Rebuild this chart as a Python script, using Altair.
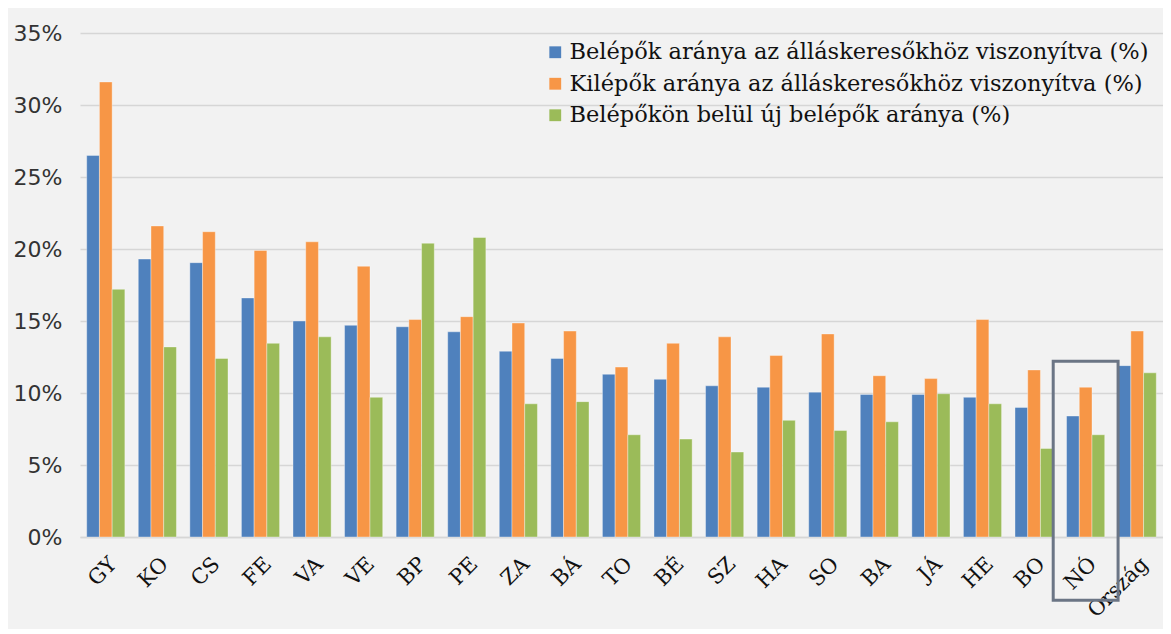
import altair as alt
import pandas as pd

categories = ["GY", "KO", "CS", "FE", "VA", "VE", "BP", "PE", "ZA", "BÁ", "TO",
              "BÉ", "SZ", "HA", "SO", "BA", "JÁ", "HE", "BO", "NÓ", "Ország"]
series_names = [
    "Belépők aránya az álláskeresőkhöz viszonyítva (%)",
    "Kilépők aránya az álláskeresőkhöz viszonyítva (%)",
    "Belépőkön belül új belépők aránya (%)",
]
belepok = [26.5, 19.3, 19.05, 16.6, 15.0, 14.7, 14.6, 14.25, 12.9, 12.4, 11.3,
           10.95, 10.5, 10.4, 10.06, 9.9, 9.9, 9.7, 9.0, 8.4, 11.9]
kilepok = [31.6, 21.6, 21.2, 19.9, 20.5, 18.8, 15.1, 15.3, 14.86, 14.3, 11.8,
           13.45, 13.9, 12.6, 14.1, 11.2, 11.0, 15.1, 11.6, 10.4, 14.3]
uj_belepok = [17.2, 13.2, 12.4, 13.45, 13.9, 9.7, 20.4, 20.8, 9.25, 9.4, 7.1,
              6.8, 5.9, 8.1, 7.4, 8.0, 9.95, 9.25, 6.15, 7.1, 11.4]
colors = ["#4f81bd", "#f79646", "#9bbb59"]
y_ticks = [0, 0.05, 0.10, 0.15, 0.20, 0.25, 0.30, 0.35]

# highlight box around NÓ (category and y-extent in data units)
highlight_cat = ["NÓ"]
highlight_top = [0.122]
highlight_bottom = [-0.044]

rows = []
for s, vals in zip(series_names, [belepok, kilepok, uj_belepok]):
    for c, v in zip(categories, vals):
        rows.append({"cat": c, "series": s, "value": v / 100.0})
df = pd.DataFrame(rows)

hl = pd.DataFrame({"cat": highlight_cat, "top": highlight_top, "bottom": highlight_bottom})

x_scale = alt.Scale(domain=categories, paddingInner=0.26, paddingOuter=0.13)
y_scale = alt.Scale(domain=[0, 0.35], nice=False)

bars = alt.Chart(df).mark_bar(stroke="#ffffff", strokeWidth=0.6, strokeOpacity=0.6).encode(
    x=alt.X("cat:N", scale=x_scale, sort=categories,
            axis=alt.Axis(title=None, labelAngle=-45, labelFont="DejaVu Serif",
                          labelFontSize=21, labelColor="#111111", labelPadding=16,
                          ticks=False, domain=True, domainColor="#d6d6d6",
                          domainWidth=1.5)),
    xOffset=alt.XOffset("series:N", sort=series_names,
                        scale=alt.Scale(domain=series_names, paddingInner=0, paddingOuter=0)),
    y=alt.Y("value:Q", scale=y_scale,
            axis=alt.Axis(title=None, values=y_ticks, format=".0%", labelFont="DejaVu Sans",
                          labelFontSize=22, labelColor="#333333", labelPadding=18,
                          ticks=False, domain=False, grid=True, gridColor="#d6d6d6",
                          gridWidth=1.5)),
    color=alt.Color("series:N", sort=series_names,
                    scale=alt.Scale(domain=series_names, range=colors),
                    legend=alt.Legend(title=None, orient="none", legendX=464, legendY=8,
                                      labelFont="DejaVu Serif", labelFontSize=22.5,
                                      labelColor="#111111", labelLimit=1000,
                                      symbolType="square", symbolSize=140,
                                      symbolStrokeWidth=0, rowPadding=8.5, padding=0,
                                      labelOffset=3)),
)

box = alt.Chart(hl).mark_bar(filled=False, stroke="#6b7585", strokeWidth=3,
                             width=alt.RelativeBandSize(1.7), clip=False).encode(
    x=alt.X("cat:N", scale=x_scale, sort=categories),
    y=alt.Y("top:Q", scale=y_scale),
    y2="bottom:Q",
)

chart = alt.layer(bars, box).properties(
    width=1083, height=504, background="#f2f2f2",
    autosize=alt.AutoSizeParams(type="none"),
    padding={"left": 72, "top": 25, "right": 0, "bottom": 92},
).configure_view(stroke=None)

chart.save("out.html", embed_options={"renderer": "svg", "actions": False})
